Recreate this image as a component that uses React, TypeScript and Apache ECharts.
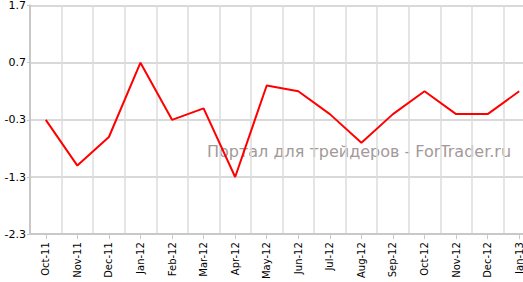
import React, { useEffect, useRef } from "react";
import * as echarts from "echarts";

const categories = [
  "Oct-11", "Nov-11", "Dec-11", "Jan-12", "Feb-12", "Mar-12", "Apr-12", "May-12",
  "Jun-12", "Jul-12", "Aug-12", "Sep-12", "Oct-12", "Nov-12", "Dec-12", "Jan-13",
];
const values = [-0.3, -1.1, -0.6, 0.7, -0.3, -0.1, -1.3, 0.3, 0.2, -0.2, -0.7, -0.2, 0.2, -0.2, -0.2, 0.2];
const yMin = -2.3;
const yMax = 1.7;
const yStep = 1;
const watermark = "Портал для трейдеров - ForTrader.ru";

export default function App() {
  const ref = useRef<HTMLDivElement>(null);
  useEffect(() => {
    if (!ref.current) return;
    const chart = echarts.init(ref.current, null, { renderer: "svg" });
    chart.setOption({
      animation: false,
      backgroundColor: "#ffffff",
      graphic: [
        {
          type: "text",
          left: 207,
          top: 143,
          z: 0,
          style: {
            text: watermark,
            fill: "#a39999",
            font: "16px 'DejaVu Sans', Verdana, sans-serif",
          },
        },
      ],
      grid: { left: 30, right: 0, top: 3, bottom: 42, containLabel: false },
      xAxis: {
        type: "category",
        data: categories,
        boundaryGap: true,
        axisLine: { show: true, onZero: false, lineStyle: { color: "#c8c8c8", width: 2 } },
        axisTick: { show: true, alignWithLabel: true, length: 5, lineStyle: { color: "#c8c8c8", width: 1 } },
        axisLabel: {
          rotate: 90,
          interval: 0,
          margin: 8,
          color: "#000000",
          fontSize: 10,
          fontFamily: "'DejaVu Sans', Verdana, sans-serif",
        },
        splitLine: { show: true, interval: 0, lineStyle: { color: "#dddddd", width: 1.5 } },
      },
      yAxis: {
        type: "value",
        min: yMin,
        max: yMax,
        interval: yStep,
        axisLine: { show: true, onZero: false, lineStyle: { color: "#c8c8c8", width: 2 } },
        axisTick: { show: true, length: 3, lineStyle: { color: "#c8c8c8" } },
        axisLabel: {
          margin: 4,
          color: "#000000",
          fontSize: 11,
          fontFamily: "'DejaVu Sans', Verdana, sans-serif",
          formatter: (v: number) => v.toFixed(1),
        },
        splitLine: { show: true, lineStyle: { color: "#cccccc", width: 1.5 } },
      },
      series: [
        {
          type: "line",
          data: values,
          symbol: "none",
          z: 5,
          lineStyle: { color: "#ff0000", width: 2 },
        },
      ],
    });
    return () => chart.dispose();
  }, []);
  return (
    <div style={{ width: 523, height: 282, position: "absolute", left: 0, top: 0, overflow: "hidden" }}>
      <div ref={ref} style={{ width: 535, height: 282 }} />
    </div>
  );
}
